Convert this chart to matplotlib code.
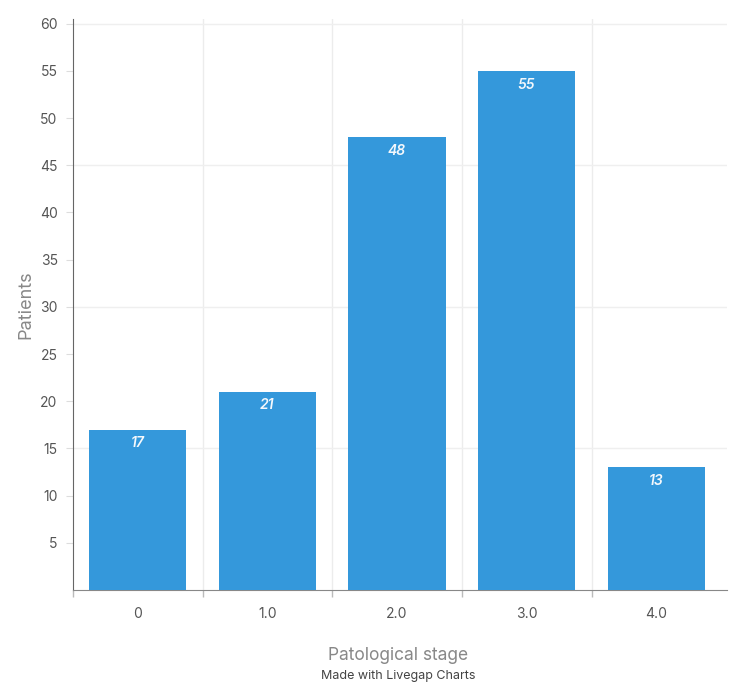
import matplotlib
matplotlib.use("Agg")
import matplotlib.pyplot as plt
from matplotlib.ticker import FixedLocator

categories = ["0", "1.0", "2.0", "3.0", "4.0"]
patients = [17, 21, 48, 55, 13]
y_ticks = [5, 10, 15, 20, 25, 30, 35, 40, 45, 50, 55, 60]

plt.rcParams['font.family'] = ['Inter', 'DejaVu Sans']

fig = plt.figure(figsize=(7.5, 6.97), dpi=100)
ax = fig.add_axes([73/750, (697-590)/697, (727-73)/750, (590-19)/697])

x = list(range(len(categories)))
bars = ax.bar(x, patients, width=0.75, color="#3498db", zorder=3)
for xi, v in zip(x, patients):
    ax.text(xi, v - 0.7, str(v), ha="center", va="top", color="#f4f8fc",
            fontsize=10, fontstyle="italic", fontweight="semibold", zorder=4)

ax.set_xlim(-0.5, 4.545)
ax.set_ylim(0, 60.5)

ax.set_xticks(x)
ax.set_xticklabels(categories)
ax.xaxis.set_minor_locator(FixedLocator([-0.5, 0.5, 1.5, 2.5, 3.5]))
ax.tick_params(axis="x", which="major", length=0, pad=12, labelsize=10, labelcolor="#555555")
ax.tick_params(axis="x", which="minor", length=5, color="#bbbbbb", width=1)
ax.set_yticks(y_ticks)
ax.tick_params(axis="y", length=5, color="#dddddd", labelsize=10, labelcolor="#555555", pad=6)

for xv in [0.5, 1.5, 2.5, 3.5]:
    ax.axvline(xv, color="#ececec", lw=1, zorder=1)
for yv in [15, 30, 45, 60]:
    ax.axhline(yv, color="#efefef", lw=1, zorder=1)

for s in ["top", "right"]:
    ax.spines[s].set_visible(False)
ax.spines["left"].set_color("#666666")
ax.spines["bottom"].set_color("#888888")

ax.set_ylabel("Patients", fontsize=13, color="#888888")
ax.yaxis.set_label_coords((34 - 73) / 654, 0.5)
fig.text(398/750, 1 - 655/697, "Patological stage", ha="center", va="center",
         fontsize=12.5, color="#888888")
fig.text(398/750, 1 - 676/697, "Made with Livegap Charts", ha="center", va="center",
         fontsize=9, color="#444444")

fig.savefig("out.png", dpi=100, facecolor="white")
